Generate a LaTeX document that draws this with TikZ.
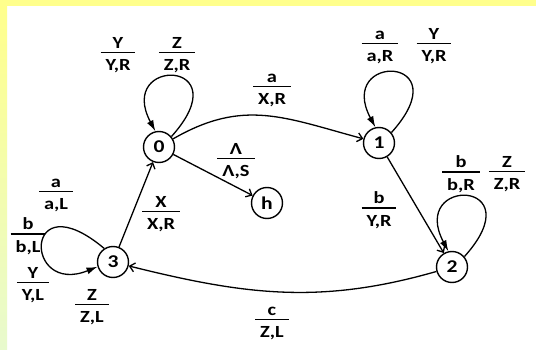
\documentclass[tikz,border=0pt]{standalone}
\usepackage{fontspec}
\setmainfont{Carlito}[FakeStretch=1.2]
\usetikzlibrary{arrows.meta}
\definecolor{bgyellow}{RGB}{255,255,140}
\definecolor{bggreen}{RGB}{232,250,205}
\setlength{\arrayrulewidth}{1.4pt}
\newcommand{\trlab}[2]{\begin{tabular}{@{\hspace{5pt}}c@{\hspace{5pt}}}#1\\[-1.5pt]\hline\rule{0pt}{17.5pt}#2\end{tabular}}
\begin{document}
\begin{tikzpicture}[x=1pt,y=1pt,
  font=\fontsize{17}{16}\selectfont\bfseries,
  state/.style={circle, draw, line width=1.4pt, minimum size=31pt, inner sep=0pt, font=\fontsize{18}{18}\selectfont\bfseries},
  lbl/.style={inner sep=0pt, yshift=-3.5pt},
  tr/.style={line width=1.3pt, -{Straight Barb[length=5pt,width=9pt]}},
  loopst/.style={line width=1.3pt, -{Latex[length=11pt,width=7pt]}}]
\useasboundingbox (0,0) rectangle (536,349);
\fill[white] (0,0) rectangle (536,349);
\fill[bgyellow] (0,343) rectangle (536,349);
\shade[top color=bgyellow, bottom color=bggreen] (0,0) rectangle (7,343);

\node[state] (n0) at (159,202) {0};
\node[state] (n1) at (379,206) {1};
\node[state] (nh) at (267,146) {h};
\node[state] (n2) at (452,82) {2};
\node[state] (n3) at (113,87) {3};

\draw[tr] (n0) to[out=30, in=165, looseness=1.1] (n1);
\draw[tr] (n0) -- (nh);
\draw[tr] (n1) -- (n2);
\draw[tr] (n3) -- (n0);
\draw[tr] (n2) to[out=196, in=-14] (n3);

\draw[loopst] (n0.40) .. controls +(48:105) and +(118:85) .. (n0.103);
\draw[loopst] (n1.40) .. controls +(48:105) and +(118:85) .. (n1.103);
\draw[loopst] (n2.40) .. controls +(48:105) and +(118:85) .. (n2.103);
\draw[loopst] (n3.123) .. controls +(140:106) and +(202:80) .. (n3.197);

\node[lbl] (l0a) at (118,296) {\trlab{Y}{Y,R}};
\node[lbl] (l0b) at (177,296) {\trlab{Z}{Z,R}};
\node[lbl] (l01) at (272,262) {\trlab{a}{X,R}};
\node[lbl] (l1a) at (380,305) {\trlab{a}{a,R}};
\node[lbl] (l1b) at (434,305) {\trlab{Y}{Y,R}};
\node[lbl] (l0h) at (236,190) {\trlab{Λ}{Λ,S}};
\node[lbl] (l12) at (379,141) {\trlab{b}{Y,R}};
\node[lbl] (l2a) at (461,177) {\trlab{b}{b,R}};
\node[lbl] (l2b) at (507,177) {\trlab{Z}{Z,R}};
\node[lbl] (l23) at (272,29) {\trlab{c}{Z,L}};
\node[lbl] (l30) at (161,137) {\trlab{X}{X,R}};
\node[lbl] (l3a) at (56,157) {\trlab{a}{a,L}};
\node[lbl] (l3b) at (28,115) {\trlab{b}{b,L}};
\node[lbl] (l3c) at (33,66) {\trlab{Y}{Y,L}};
\node[lbl] (l3d) at (92,44) {\trlab{Z}{Z,L}};
\end{tikzpicture}
\end{document}
